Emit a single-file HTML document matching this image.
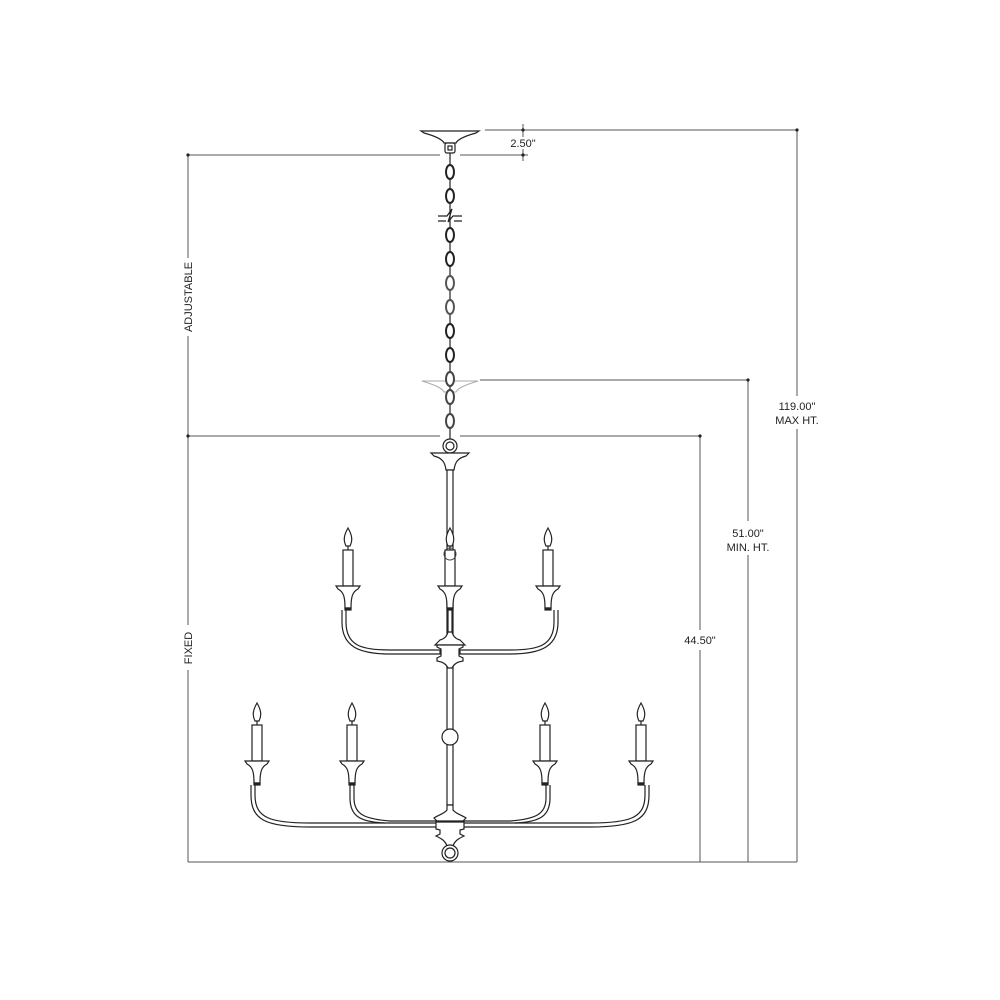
<!DOCTYPE html>
<html><head><meta charset="utf-8"><style>
html,body{margin:0;padding:0;background:#fff;}
svg{display:block}
text{font-family:"Liberation Sans",sans-serif;font-size:11px;fill:#222}
</style></head><body>
<svg width="1000" height="1000" viewBox="0 0 1000 1000" xmlns="http://www.w3.org/2000/svg">
<defs>
<g id="candle" fill="#fff" stroke="#222" stroke-width="1.2">
  <path d="M0,-22 C-4,-15 -5,-10 -2,-4 L2,-4 C5,-10 4,-15 0,-22 Z"/>
  <line x1="0" y1="-4" x2="0" y2="0"/>
  <rect x="-5" y="0" width="10" height="36"/>
  <path d="M-12,36 L12,36 L10,39 C4,42 3,48 3,58 L-3,58 C-3,48 -4,42 -10,39 Z"/>
  <rect x="-3" y="58" width="6" height="2" fill="#222"/>
</g>
</defs>
<g stroke="#555" stroke-width="1" fill="none">
  <line x1="485" y1="130" x2="797" y2="130"/>
  <line x1="188" y1="155" x2="440" y2="155"/>
  <line x1="460" y1="155" x2="528" y2="155"/>
  <line x1="523" y1="124" x2="523" y2="137"/>
  <line x1="523" y1="149" x2="523" y2="161"/>
  <line x1="797" y1="130" x2="797" y2="396"/>
  <line x1="797" y1="429" x2="797" y2="862"/>
  <line x1="480" y1="380" x2="748" y2="380"/>
  <line x1="748" y1="380" x2="748" y2="521"/>
  <line x1="748" y1="555" x2="748" y2="862"/>
  <line x1="188" y1="436" x2="440" y2="436"/>
  <line x1="460" y1="436" x2="700" y2="436"/>
  <line x1="700" y1="436" x2="700" y2="630"/>
  <line x1="700" y1="650" x2="700" y2="862"/>
  <line x1="188" y1="155" x2="188" y2="258"/>
  <line x1="188" y1="336" x2="188" y2="625"/>
  <line x1="188" y1="670" x2="188" y2="862"/>
  <line x1="188" y1="862" x2="797" y2="862"/>
</g>
<g fill="#222">
  <circle cx="188" cy="155" r="1.6"/><circle cx="188" cy="436" r="1.6"/>
  <circle cx="700" cy="436" r="1.6"/><circle cx="748" cy="380" r="1.6"/>
  <circle cx="797" cy="130" r="1.6"/><circle cx="523" cy="130" r="1.6"/><circle cx="523" cy="155" r="1.6"/>
</g>
<text x="523" y="147" text-anchor="middle">2.50"</text>
<text x="797" y="410" text-anchor="middle">119.00"</text>
<text x="797" y="424" text-anchor="middle">MAX HT.</text>
<text x="748" y="537" text-anchor="middle">51.00"</text>
<text x="748" y="551" text-anchor="middle">MIN. HT.</text>
<text x="700" y="644" text-anchor="middle">44.50"</text>
<text transform="translate(192,297) rotate(-90)" text-anchor="middle">ADJUSTABLE</text>
<text transform="translate(192,648) rotate(-90)" text-anchor="middle">FIXED</text>

<g stroke="#222" stroke-width="1.2" fill="#fff">
  <path d="M421,131 L479,131 L476,133 C465,136 458,139 456,143 L444,143 C442,139 435,136 424,133 Z"/>
  <rect x="445" y="143" width="10" height="10" rx="2"/>
  <rect x="448" y="146" width="4" height="4"/>
</g>
<path d="M422,381 L478,381 C465,385 458,388 456,392 L444,392 C442,388 435,385 422,381 Z" stroke="#aaa" fill="none"/>
<g stroke="#222" stroke-width="2" fill="none">
  <line x1="450" y1="153" x2="450" y2="440" stroke-width="1.2"/>
  <ellipse cx="450" cy="172" rx="4" ry="7" fill="#fff"/>
  <ellipse cx="450" cy="196" rx="4" ry="7" fill="#fff"/>
  <ellipse cx="450" cy="235" rx="4" ry="7" fill="#fff"/>
  <ellipse cx="450" cy="259" rx="4" ry="7" fill="#fff"/>
  <ellipse cx="450" cy="283" rx="4" ry="7" fill="#fff" stroke="#555"/>
  <ellipse cx="450" cy="307" rx="4" ry="7" fill="#fff" stroke="#555"/>
  <ellipse cx="450" cy="331" rx="4" ry="7" fill="#fff"/>
  <ellipse cx="450" cy="355" rx="4" ry="7" fill="#fff"/>
  <ellipse cx="450" cy="379" rx="4" ry="7" fill="#fff" stroke="#444"/>
  <ellipse cx="450" cy="397" rx="4" ry="7" fill="#fff" stroke="#444"/>
  <ellipse cx="450" cy="421" rx="4" ry="7" fill="#fff" stroke="#444"/>
</g>
<g stroke="#222" stroke-width="1.2" fill="none">
  <path d="M438,216 L447,216 L452,209 L448,222 L453,216 L462,216"/>
  <path d="M438,221 L446,221 M454,221 L462,221"/>
</g>
<g stroke="#222" stroke-width="1.2" fill="#fff">
  <circle cx="450" cy="446" r="7"/><circle cx="450" cy="446" r="4"/>
  <path d="M431,453 L469,453 L466,456 C458,458 455,462 454,470 L446,470 C445,462 442,458 434,456 Z"/>
  <rect x="447" y="470" width="6" height="168"/>
  <rect x="447" y="665" width="6" height="140"/>
  <circle cx="450" cy="737" r="8"/>
  <!-- upper arms -->
  <path d="M346,610 L346,622 C346,646 362,650 390,650 L440,650 L440,654 L390,654 C358,654 342,646 342,622 L342,610" fill="none"/>
  <path d="M554,610 L554,622 C554,646 538,650 510,650 L460,650 L460,654 L510,654 C542,654 558,646 558,622 L558,610" fill="none"/>
  <line x1="448" y1="610" x2="448" y2="650"/><line x1="452" y1="610" x2="452" y2="650"/>
  <path d="M440,640 L437,643 L435,645 L465,645 L463,643 L460,640 C456,639 453,636 452,632 L448,632 C447,636 444,639 440,640 Z"/>
  <path d="M437,645 L463,645 L463,647 L459,649 L459,656 L463,658 L463,661 C457,662 454,664 452,668 L448,668 C446,664 443,662 437,661 L437,658 L441,656 L441,649 L437,647 Z"/>
  <!-- lower arms -->
  <path d="M255,785 L255,795 C255,818 270,823 310,823 L440,823 L440,827 L310,827 C266,827 251,820 251,795 L251,785" fill="none"/>
  <path d="M645,785 L645,795 C645,818 630,823 590,823 L460,823 L460,827 L590,827 C634,827 649,820 649,795 L649,785" fill="none"/>
  <path d="M350,785 L350,798 C350,816 360,822 385,823 M354,785 L354,798 C354,814 364,819 390,821 L440,821" fill="none"/>
  <path d="M550,785 L550,798 C550,816 540,822 515,823 M546,785 L546,798 C546,814 536,819 510,821 L460,821" fill="none"/>
  <path d="M447,805 L453,805 L453,810 C456,814 462,815 466,818 L463,821 L437,821 L434,818 C438,815 444,814 447,810 Z"/>
  <path d="M436,822 L464,822 L464,829 L460,830 L460,834 L464,836 C460,838 455,840 453,846 L447,846 C445,840 440,838 436,836 L440,834 L440,830 L436,829 Z"/>
  <circle cx="450" cy="853" r="8"/><circle cx="450" cy="853" r="5"/>
</g>
<use href="#candle" x="348" y="550"/>
<use href="#candle" x="450" y="550"/>
<use href="#candle" x="548" y="550"/>
<circle cx="450" cy="554" r="6" fill="none" stroke="#444" stroke-width="1"/>
<use href="#candle" x="257" y="725"/>
<use href="#candle" x="352" y="725"/>
<use href="#candle" x="545" y="725"/>
<use href="#candle" x="641" y="725"/>
</svg>
</body></html>
